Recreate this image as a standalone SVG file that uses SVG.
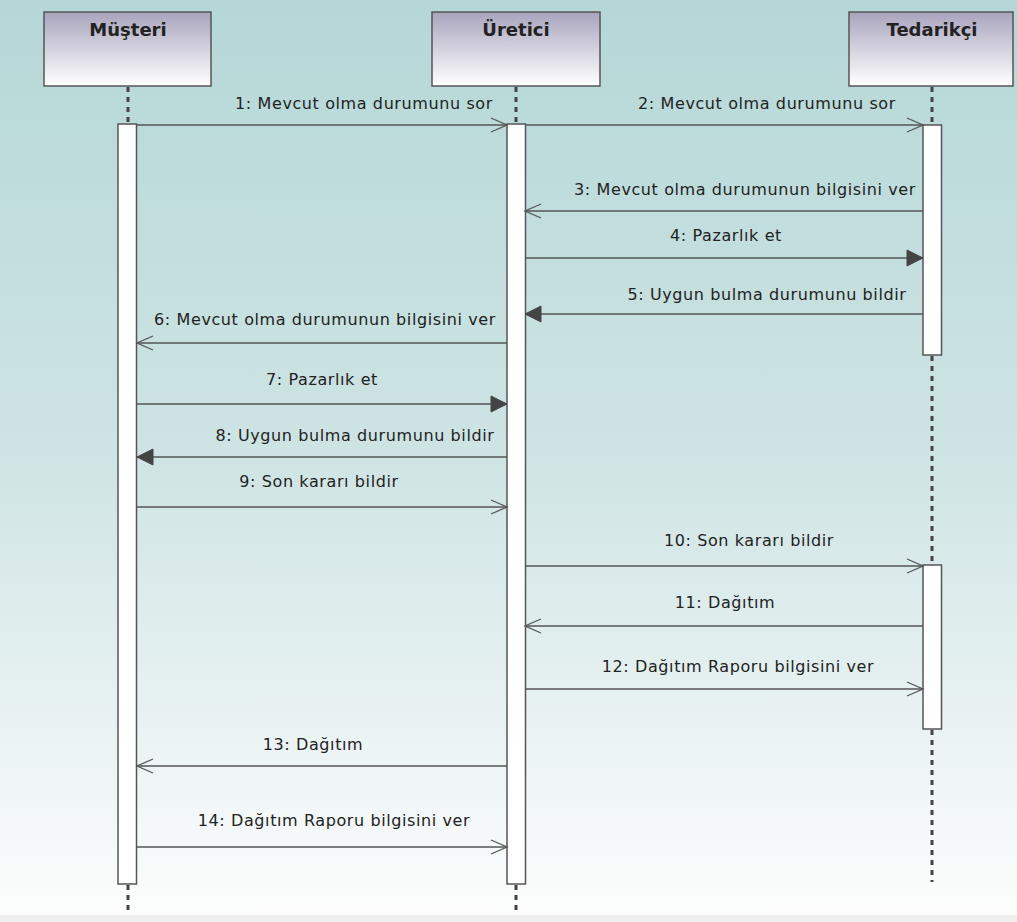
<svg xmlns="http://www.w3.org/2000/svg" width="1017" height="922" viewBox="0 0 1017 922">
<defs>
<linearGradient id="bg" x1="0" y1="0" x2="0" y2="1">
<stop offset="0" stop-color="#b5d7d7"/>
<stop offset="0.5" stop-color="#cfe4e4"/>
<stop offset="1" stop-color="#fdfdfd"/>
</linearGradient>
<linearGradient id="hdr" x1="0" y1="0" x2="0" y2="1">
<stop offset="0" stop-color="#a9a4bd"/>
<stop offset="1" stop-color="#ffffff"/>
</linearGradient>
<marker id="open" markerUnits="userSpaceOnUse" markerWidth="20" markerHeight="16" refX="17" refY="8" orient="auto">
<path d="M1,1 L17,8 L1,15" fill="none" stroke="#555" stroke-width="1.3"/>
</marker>
<marker id="filled" markerUnits="userSpaceOnUse" markerWidth="20" markerHeight="18" refX="17" refY="9" orient="auto">
<path d="M1,1 L17,9 L1,17 Z" fill="#444" stroke="#444" stroke-width="1"/>
</marker>
</defs>
<style>
.hdr{fill:url(#hdr);stroke:#555;stroke-width:1.5}
.htxt{font-family:"DejaVu Sans",sans-serif;font-weight:bold;font-size:18px;fill:#222;text-anchor:middle}
.life{stroke:#444;stroke-width:3;stroke-dasharray:5 5;fill:none}
.act{fill:#fff;stroke:#555;stroke-width:1.5}
.msg{stroke:#555;stroke-width:1.4;fill:none}
.o{marker-end:url(#open)}
.f{marker-end:url(#filled)}
.lbl{font-family:"DejaVu Sans",sans-serif;font-size:16px;letter-spacing:0.6px;fill:#222;text-anchor:middle}
</style>
<rect x="0" y="0" width="1017" height="922" fill="url(#bg)"/>
<rect x="0" y="915" width="1017" height="7" fill="#efefef"/>

<g id="lifelines">
<line class="life" x1="128" y1="87" x2="128" y2="124"/>
<line class="life" x1="128" y1="885" x2="128" y2="915"/>
<line class="life" x1="516" y1="87" x2="516" y2="124"/>
<line class="life" x1="516" y1="885" x2="516" y2="915"/>
<line class="life" x1="932" y1="87" x2="932" y2="124"/>
<line class="life" x1="932" y1="356" x2="932" y2="565"/>
<line class="life" x1="932" y1="730" x2="932" y2="882"/>
</g>

<g id="musteri">
<rect class="hdr" x="44" y="12" width="167" height="74"/>
<text class="htxt" x="128" y="36">Müşteri</text>
<rect class="act" x="118" y="124" width="18.5" height="760"/>
</g>
<g id="uretici">
<rect class="hdr" x="432" y="12" width="168" height="74"/>
<text class="htxt" x="516" y="36">Üretici</text>
<rect class="act" x="507" y="124" width="18.5" height="760"/>
</g>
<g id="tedarikci">
<rect class="hdr" x="849" y="12" width="164" height="74"/>
<text class="htxt" x="932" y="36">Tedarikçi</text>
<rect class="act" x="923" y="125" width="18.5" height="230"/>
<rect class="act" x="923" y="565" width="18.5" height="164"/>
</g>

<g id="connectors">
<line class="msg o" x1="137" y1="125" x2="507" y2="125"/>
<line class="msg o" x1="525" y1="125" x2="923" y2="125"/>
<line class="msg o" x1="923" y1="211" x2="525" y2="211"/>
<line class="msg f" x1="525" y1="258" x2="923" y2="258"/>
<line class="msg f" x1="923" y1="314" x2="525" y2="314"/>
<line class="msg o" x1="507" y1="343" x2="137" y2="343"/>
<line class="msg f" x1="137" y1="404" x2="507" y2="404"/>
<line class="msg f" x1="507" y1="457" x2="137" y2="457"/>
<line class="msg o" x1="137" y1="507" x2="507" y2="507"/>
<line class="msg o" x1="525" y1="566" x2="923" y2="566"/>
<line class="msg o" x1="923" y1="626" x2="525" y2="626"/>
<line class="msg o" x1="525" y1="689" x2="923" y2="689"/>
<line class="msg o" x1="507" y1="766" x2="137" y2="766"/>
<line class="msg o" x1="137" y1="847" x2="507" y2="847"/>
</g>

<g id="labels">
<text class="lbl" x="364" y="109">1: Mevcut olma durumunu sor</text>
<text class="lbl" x="767" y="109">2: Mevcut olma durumunu sor</text>
<text class="lbl" x="745" y="195">3: Mevcut olma durumunun bilgisini ver</text>
<text class="lbl" x="726" y="241">4: Pazarlık et</text>
<text class="lbl" x="767" y="300">5: Uygun bulma durumunu bildir</text>
<text class="lbl" x="325" y="325">6: Mevcut olma durumunun bilgisini ver</text>
<text class="lbl" x="322" y="385">7: Pazarlık et</text>
<text class="lbl" x="355" y="441">8: Uygun bulma durumunu bildir</text>
<text class="lbl" x="319" y="487">9: Son kararı bildir</text>
<text class="lbl" x="749" y="546">10: Son kararı bildir</text>
<text class="lbl" x="725" y="608">11: Dağıtım</text>
<text class="lbl" x="738" y="672">12: Dağıtım Raporu bilgisini ver</text>
<text class="lbl" x="313" y="750">13: Dağıtım</text>
<text class="lbl" x="334" y="826">14: Dağıtım Raporu bilgisini ver</text>
</g>
</svg>
